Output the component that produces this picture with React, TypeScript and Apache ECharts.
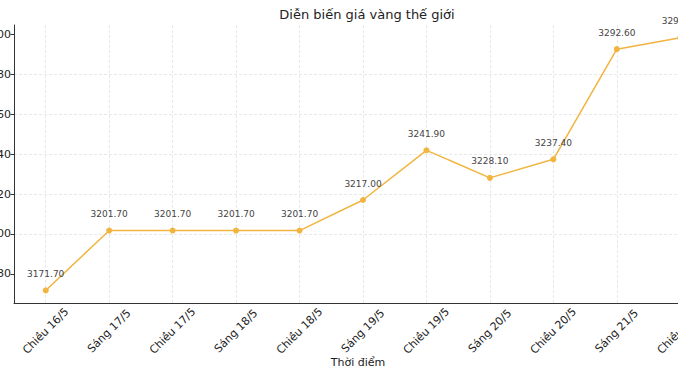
import React, { useEffect, useRef } from "react";
import * as echarts from "echarts";

const categories = [
  "Chiều 16/5",
  "Sáng 17/5",
  "Chiều 17/5",
  "Sáng 18/5",
  "Chiều 18/5",
  "Sáng 19/5",
  "Chiều 19/5",
  "Sáng 20/5",
  "Chiều 20/5",
  "Sáng 21/5",
  "Chiều 21/5",
];
const prices = [3171.7, 3201.7, 3201.7, 3201.7, 3201.7, 3217.0, 3241.9, 3228.1, 3237.4, 3292.6, 3298.3];
const yTicks = [3180, 3200, 3220, 3240, 3260, 3280, 3300];
const yMin = 3165.4;
const yMax = 3304.7;

const FONT = "DejaVu Sans";

export default function App() {
  const ref = useRef<HTMLDivElement>(null);
  useEffect(() => {
    document.body.style.overflow = "hidden";
    const chart = echarts.init(ref.current!, null, { renderer: "svg" });
    chart.setOption({
      animation: false,
      backgroundColor: "#ffffff",
      title: {
        text: "Diễn biến giá vàng thế giới",
        left: 422,
        top: 3,
        textAlign: "center",
        textStyle: { fontSize: 13, fontWeight: "normal", color: "#222", fontFamily: FONT },
      },
      grid: { left: 74, width: 698, top: 25, bottom: 78, containLabel: false, outerBoundsMode: "none" },
      xAxis: [
        {
          type: "category",
          data: categories,
          boundaryGap: true,
          name: "Thời điểm",
          nameLocation: "middle",
          nameGap: 54,
          nameMoveOverlap: false,
          nameTextStyle: { fontSize: 11, color: "#222", fontFamily: FONT, padding: [0, 10, 0, 0] },
          axisLine: { onZero: false, lineStyle: { color: "#333", width: 1 } },
          axisTick: { alignWithLabel: true, length: 3.5, lineStyle: { color: "#333" } },
          axisLabel: {
            interval: 0,
            rotate: 45,
            align: "center",
            verticalAlign: "middle",
            margin: 28,
            fontSize: 11,
            color: "#222",
            fontFamily: FONT,
          },
          splitLine: { show: false },
        },
        {
          type: "value",
          min: -0.5,
          max: categories.length - 0.5,
          splitNumber: categories.length,
          position: "bottom",
          axisLine: { show: false, onZero: false },
          axisTick: { show: false },
          axisLabel: { show: false },
          splitLine: {
            show: true,
            showMinLine: false,
            showMaxLine: false,
            lineStyle: { color: "#e2e2e2", type: [3, 2], width: 0.8 },
          },
        },
      ],
      yAxis: {
        type: "value",
        min: yMin,
        max: yMax,
        splitNumber: 7,
        axisLine: { show: true, onZero: false, lineStyle: { color: "#333", width: 1 } },
        axisTick: { show: true, length: 3.5, customValues: yTicks, lineStyle: { color: "#333" } },
        axisLabel: {
          customValues: yTicks,
          margin: 3,
          fontSize: 11,
          color: "#222",
          fontFamily: FONT,
          formatter: (v: number) => String(Math.round(v)),
        },
        splitLine: {
          show: true,
          showMinLine: false,
          showMaxLine: false,
          lineStyle: { color: "#e2e2e2", type: [3, 2], width: 0.8 },
        },
      },
      series: [
        {
          type: "line",
          xAxisIndex: 0,
          data: prices,
          color: "#f1b43f",
          lineStyle: { width: 1.5, color: "#f1b43f" },
          symbol: "circle",
          symbolSize: 6,
          itemStyle: { color: "#f1b43f" },
          label: {
            show: true,
            position: "top",
            distance: 9,
            fontSize: 9,
            color: "#444",
            fontFamily: FONT,
            formatter: (p: any) => Number(p.value).toFixed(2),
          },
        },
      ],
    });
    return () => chart.dispose();
  }, []);
  return (
    <div
      ref={ref}
      style={{ position: "fixed", left: -60, top: 0, width: 800, height: 381 }}
    />
  );
}
